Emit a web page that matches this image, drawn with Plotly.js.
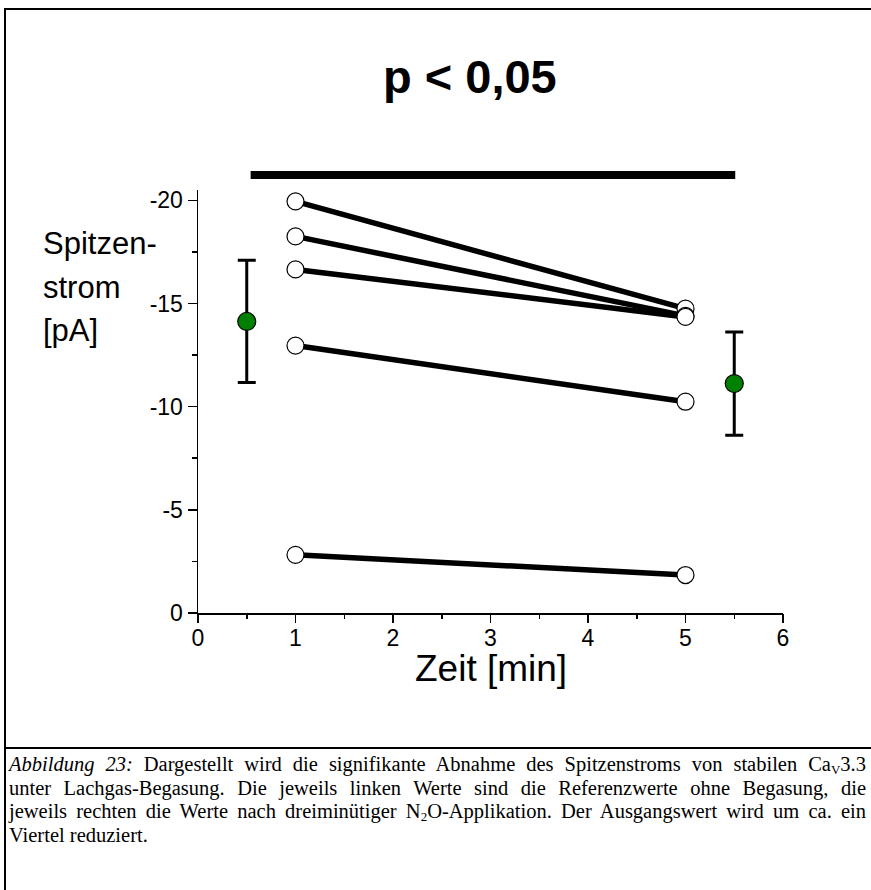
<!DOCTYPE html>
<html>
<head>
<meta charset="utf-8">
<script src="https://cdn.plot.ly/plotly-3.0.1.min.js"></script>
<style>
  html, body { margin: 0; padding: 0; background: #fff; }
  #wrap { position: relative; width: 871px; height: 890px; overflow: hidden; }
  #chart { position: absolute; left: 0; top: 0; width: 871px; height: 890px; }
  .frameline { position: absolute; background: #000; }
  #caption {
    position: absolute; left: 9px; top: 753px; width: 857px;
    font-family: "Liberation Serif", "Times New Roman", serif;
    font-size: 20.5px; line-height: 23.7px; color: #000;
  }
  #caption .j { text-align: justify; text-align-last: justify; white-space: nowrap; }
  #caption .l { text-align: left; white-space: nowrap; }
  #caption sub { font-size: 13px; vertical-align: -3px; line-height: 0; }
</style>
</head>
<body>
<div id="wrap">
  <div id="chart"></div>
  <div class="frameline" style="left:4px; top:8px; width:880px; height:2px;"></div>
  <div class="frameline" style="left:4px; top:8px; width:2px; height:890px;"></div>
  <div class="frameline" style="left:4px; top:747px; width:880px; height:2px;"></div>
  <div id="caption">
    <div class="j"><i>Abbildung 23:</i> Dargestellt wird die signifikante Abnahme des Spitzenstroms von stabilen Ca<sub>V</sub>3.3</div>
    <div class="j">unter Lachgas-Begasung. Die jeweils linken Werte sind die Referenzwerte ohne Begasung, die</div>
    <div class="j">jeweils rechten die Werte nach dreiminütiger N<sub>2</sub>O-Applikation. Der Ausgangswert wird um ca. ein</div>
    <div class="l">Viertel reduziert.</div>
  </div>
</div>
<script>
// Times (min)
const timeBefore = 1;
const timeAfter = 5;
// Peak current per cell [pA]
const currentBefore = [-19.95, -18.25, -16.65, -12.96, -2.82];
const currentAfter  = [-14.75, -14.40, -14.35, -10.24, -1.84];
// Means and SD
const meanX = [0.5, 5.5];
const meanY = [-14.13, -11.12];
const meanErr = [2.96, 2.5];
// Tick labels
const yTickVals = [0, -5, -10, -15, -20];
const yTickText = ["0", "-5", "-10", "-15", "-20"];
const xTickVals = [0, 1, 2, 3, 4, 5, 6];
const xTickText = ["0", "1", "2", "3", "4", "5", "6"];

const traces = [];
for (let i = 0; i < currentBefore.length; i++) {
  traces.push({
    x: [timeBefore, timeAfter],
    y: [currentBefore[i], currentAfter[i]],
    mode: 'lines+markers',
    type: 'scatter',
    line: { color: '#000', width: 5.5 },
    marker: { symbol: 'circle', size: 17, color: '#fff', line: { color: '#000', width: 1.2 } },
    showlegend: false,
    hoverinfo: 'skip',
    cliponaxis: false
  });
}
traces.push({
  x: meanX, y: meanY,
  xaxis: 'x2',
  mode: 'markers', type: 'scatter',
  marker: { symbol: 'circle', size: 18, color: '#008000', line: { color: '#000', width: 1.2 } },
  error_y: { type: 'data', array: meanErr, visible: true, color: '#000', thickness: 3, width: 9 },
  showlegend: false, hoverinfo: 'skip', cliponaxis: false
});

const fontSans = 'Liberation Sans, Arial, sans-serif';
const layout = {
  width: 871, height: 890,
  margin: { l: 198, r: 88, t: 190, b: 277 },
  paper_bgcolor: 'rgba(0,0,0,0)',
  plot_bgcolor: 'rgba(0,0,0,0)',
  showlegend: false,
  font: { family: fontSans, color: '#000' },
  xaxis: {
    range: [0, 6],
    tickvals: xTickVals, ticktext: xTickText,
    ticks: 'outside', ticklen: 4, tickwidth: 1.5, tickcolor: '#000',
    minor: { dtick: 0.5, ticks: 'outside', ticklen: 4, tickwidth: 1.5, tickcolor: '#000' },
    showline: true, linecolor: '#000', linewidth: 1.5,
    showgrid: false, zeroline: false,
    tickfont: { family: fontSans, size: 23 }
  },
  xaxis2: {
    overlaying: 'x', matches: 'x', anchor: 'y', side: 'bottom',
    range: [0, 6],
    tickvals: xTickVals,
    ticks: 'outside', ticklen: 9, tickwidth: 1.5, tickcolor: '#000',
    minor: { dtick: 0.5, ticks: 'outside', ticklen: 5, tickwidth: 1.5, tickcolor: '#000' },
    showticklabels: false, showline: false, showgrid: false, zeroline: false
  },
  yaxis: {
    range: [0, -20.5],
    tickvals: yTickVals, ticktext: yTickText,
    ticks: 'outside', ticklen: 9, tickwidth: 1.5, tickcolor: '#000',
    minor: { dtick: 2.5, ticks: 'outside', ticklen: 5, tickwidth: 1.5, tickcolor: '#000' },
    showline: true, linecolor: '#000', linewidth: 1.5,
    showgrid: false, zeroline: false,
    tickfont: { family: fontSans, size: 23 }
  },
  shapes: [
    { type: 'line', xref: 'x', yref: 'paper', x0: 0.54, x1: 5.51, y0: 1.0355, y1: 1.0355,
      line: { color: '#000', width: 8 } }
  ],
  annotations: [
    { text: '<b>p &lt; 0,05</b>', xref: 'paper', yref: 'paper', x: 0.465, y: (613-76)/423, xanchor: 'center', yanchor: 'middle',
      showarrow: false, font: { family: fontSans, size: 47 } },
    { text: 'Zeit [min]', xref: 'paper', yref: 'paper', x: 0.5, y: (613-668)/423, xanchor: 'center', yanchor: 'middle',
      showarrow: false, font: { family: fontSans, size: 37 } },
    { text: 'Spitzen-', xref: 'paper', yref: 'paper', x: -0.268, y: (613-243)/423, xanchor: 'left', yanchor: 'middle',
      showarrow: false, font: { family: fontSans, size: 31 } },
    { text: 'strom', xref: 'paper', yref: 'paper', x: -0.268, y: (613-287)/423, xanchor: 'left', yanchor: 'middle',
      showarrow: false, font: { family: fontSans, size: 31 } },
    { text: '[pA]', xref: 'paper', yref: 'paper', x: -0.268, y: (613-330)/423, xanchor: 'left', yanchor: 'middle',
      showarrow: false, font: { family: fontSans, size: 31 } }
  ]
};
Plotly.newPlot('chart', traces, layout, { displayModeBar: false, staticPlot: true });
</script>
</body>
</html>
